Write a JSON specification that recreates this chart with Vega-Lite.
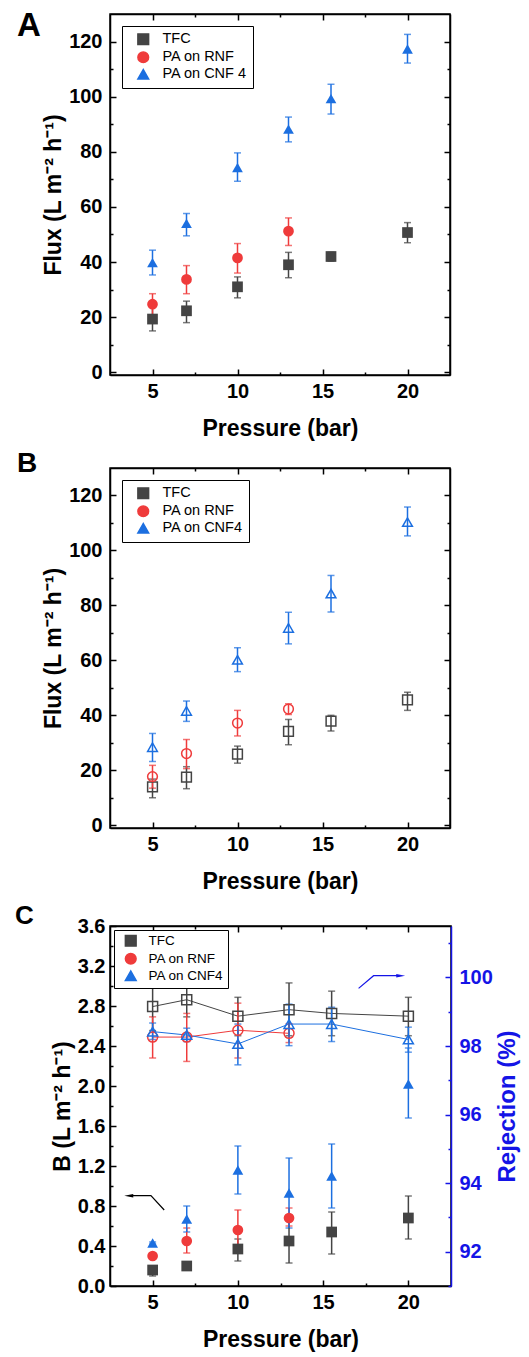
{
  "$schema": "https://vega.github.io/schema/vega-lite/v6.json",
  "background": "white",
  "padding": {"left": 14, "top": 9, "right": 0, "bottom": 0},
  "spacing": 8,
  "resolve": {"scale": {"color": "independent", "shape": "independent"}},
  "config": {
    "font": "Liberation Sans",
    "view": {"stroke": "black", "strokeWidth": 1.5},
    "axis": {"grid": false, "domainColor": "black", "domainWidth": 1.5, "tickColor": "black", "tickWidth": 1.5, "labelFontSize": 20, "labelFontWeight": "bold", "labelColor": "black", "titleFontSize": 23, "titleFontWeight": "bold", "titleColor": "black", "labelFlush": false, "labelOverlap": false},
    "legend": {"orient": "top-left", "strokeColor": "black", "fillColor": "white", "padding": 6, "labelFontSize": 14.5, "labelColor": "black", "symbolSize": 115, "symbolOpacity": 1, "rowPadding": 0, "labelOffset": 12, "symbolOffset": 8, "offset": 12, "symbolStrokeWidth": 1.5},
    "title": {"fontSize": 32, "fontWeight": "bold", "anchor": "start", "frame": "group", "color": "black", "baseline": "alphabetic"}
  },
  "datasets": {
    "fa": [
      {"s": "TFC", "p": 5, "v": 19.3, "lo": 15, "hi": 23.6},
      {"s": "TFC", "p": 7, "v": 22.3, "lo": 18, "hi": 25.8},
      {"s": "TFC", "p": 10, "v": 31, "lo": 27, "hi": 34.6},
      {"s": "TFC", "p": 13, "v": 39, "lo": 34.3, "hi": 43.5},
      {"s": "TFC", "p": 15.5, "v": 42, "lo": 40.3, "hi": 43.5},
      {"s": "TFC", "p": 20, "v": 50.7, "lo": 47, "hi": 54.3},
      {"s": "PA on RNF", "p": 5, "v": 24.7, "lo": 20.7, "hi": 28.5},
      {"s": "PA on RNF", "p": 7, "v": 33.7, "lo": 28.5, "hi": 38.7},
      {"s": "PA on RNF", "p": 10, "v": 41.5, "lo": 36, "hi": 46.7},
      {"s": "PA on RNF", "p": 13, "v": 51.2, "lo": 46, "hi": 56},
      {"s": "PA on CNF 4", "p": 5, "v": 39.8, "lo": 35.3, "hi": 44.3},
      {"s": "PA on CNF 4", "p": 7, "v": 54, "lo": 49.5, "hi": 57.6},
      {"s": "PA on CNF 4", "p": 10, "v": 74.3, "lo": 69.3, "hi": 79.6},
      {"s": "PA on CNF 4", "p": 13, "v": 88.2, "lo": 83.6, "hi": 92.6},
      {"s": "PA on CNF 4", "p": 15.5, "v": 99.3, "lo": 93.7, "hi": 104.5},
      {"s": "PA on CNF 4", "p": 20, "v": 117.3, "lo": 112.2, "hi": 122.6}
    ],
    "fb": [
      {"s": "TFC", "p": 5, "v": 14, "lo": 10, "hi": 16.8},
      {"s": "TFC", "p": 7, "v": 17.5, "lo": 13.3, "hi": 21.3},
      {"s": "TFC", "p": 10, "v": 25.9, "lo": 22.6, "hi": 28.8},
      {"s": "TFC", "p": 13, "v": 34.2, "lo": 29.3, "hi": 38.5},
      {"s": "TFC", "p": 15.5, "v": 37.9, "lo": 34.3, "hi": 40},
      {"s": "TFC", "p": 20, "v": 45.6, "lo": 41.8, "hi": 48.4},
      {"s": "PA on RNF", "p": 5, "v": 17.7, "lo": 13.5, "hi": 21.8},
      {"s": "PA on RNF", "p": 7, "v": 26.1, "lo": 20.6, "hi": 31.2},
      {"s": "PA on RNF", "p": 10, "v": 37.2, "lo": 32.5, "hi": 41.8},
      {"s": "PA on RNF", "p": 13, "v": 42.3, "lo": 40.3, "hi": 44.2},
      {"s": "PA on CNF4", "p": 5, "v": 28.4, "lo": 23.2, "hi": 33.4},
      {"s": "PA on CNF4", "p": 7, "v": 41.6, "lo": 37.8, "hi": 45.2},
      {"s": "PA on CNF4", "p": 10, "v": 60.2, "lo": 55.9, "hi": 64.6},
      {"s": "PA on CNF4", "p": 13, "v": 71.8, "lo": 66, "hi": 77.5},
      {"s": "PA on CNF4", "p": 15.5, "v": 84.3, "lo": 77.6, "hi": 90.9},
      {"s": "PA on CNF4", "p": 20, "v": 110.3, "lo": 105.3, "hi": 115.8}
    ],
    "cb": [
      {"s": "TFC", "p": 5, "v": 0.16, "lo": 0.1, "hi": 0.2},
      {"s": "TFC", "p": 7, "v": 0.2, "lo": 0.19, "hi": 0.21},
      {"s": "TFC", "p": 10, "v": 0.37, "lo": 0.25, "hi": 0.47},
      {"s": "TFC", "p": 13, "v": 0.45, "lo": 0.23, "hi": 0.67},
      {"s": "TFC", "p": 15.5, "v": 0.54, "lo": 0.32, "hi": 0.74},
      {"s": "TFC", "p": 20, "v": 0.68, "lo": 0.47, "hi": 0.9},
      {"s": "PA on RNF", "p": 5, "v": 0.3, "lo": 0.29, "hi": 0.31},
      {"s": "PA on RNF", "p": 7, "v": 0.45, "lo": 0.33, "hi": 0.58},
      {"s": "PA on RNF", "p": 10, "v": 0.56, "lo": 0.4, "hi": 0.76},
      {"s": "PA on RNF", "p": 13, "v": 0.68, "lo": 0.6, "hi": 0.78},
      {"s": "PA on CNF4", "p": 5, "v": 0.43, "lo": 0.42, "hi": 0.44},
      {"s": "PA on CNF4", "p": 7, "v": 0.67, "lo": 0.54, "hi": 0.8},
      {"s": "PA on CNF4", "p": 10, "v": 1.16, "lo": 0.92, "hi": 1.4},
      {"s": "PA on CNF4", "p": 13, "v": 0.93, "lo": 0.58, "hi": 1.28},
      {"s": "PA on CNF4", "p": 15.5, "v": 1.1, "lo": 0.78, "hi": 1.42},
      {"s": "PA on CNF4", "p": 20, "v": 2.02, "lo": 1.68, "hi": 2.38}
    ],
    "cr": [
      {"s": "TFC", "p": 5, "v": 99.15, "lo": 98.45, "hi": 99.84},
      {"s": "TFC", "p": 7, "v": 99.35, "lo": 98.85, "hi": 99.84},
      {"s": "TFC", "p": 10, "v": 98.87, "lo": 98.3, "hi": 99.42},
      {"s": "TFC", "p": 13, "v": 99.06, "lo": 98.3, "hi": 99.84},
      {"s": "TFC", "p": 15.5, "v": 98.95, "lo": 98.3, "hi": 99.6},
      {"s": "TFC", "p": 20, "v": 98.87, "lo": 98.3, "hi": 99.42},
      {"s": "PA on RNF", "p": 5, "v": 98.26, "lo": 97.65, "hi": 98.85},
      {"s": "PA on RNF", "p": 7, "v": 98.26, "lo": 97.55, "hi": 98.95},
      {"s": "PA on RNF", "p": 10, "v": 98.46, "lo": 97.65, "hi": 99.25},
      {"s": "PA on RNF", "p": 13, "v": 98.37, "lo": 98.1, "hi": 98.65},
      {"s": "PA on CNF4", "p": 5, "v": 98.42, "lo": 98.19, "hi": 98.67},
      {"s": "PA on CNF4", "p": 7, "v": 98.32, "lo": 98.13, "hi": 98.52},
      {"s": "PA on CNF4", "p": 10, "v": 98.06, "lo": 97.45, "hi": 98.64},
      {"s": "PA on CNF4", "p": 13, "v": 98.64, "lo": 98.01, "hi": 99.22},
      {"s": "PA on CNF4", "p": 15.5, "v": 98.64, "lo": 98.13, "hi": 99.13},
      {"s": "PA on CNF4", "p": 20, "v": 98.19, "lo": 97.82, "hi": 98.55}
    ],
    "arrB": [
      {"k": 1, "p": 5.68, "v": 0.76},
      {"k": 2, "p": 4.9, "v": 0.903},
      {"k": 3, "p": 3.65, "v": 0.903}
    ],
    "arrR": [
      {"k": 1, "p": 17.08, "v": 99.68},
      {"k": 2, "p": 17.96, "v": 100.05},
      {"k": 3, "p": 19.5, "v": 100.05}
    ]
  },
  "vconcat": [
    {
      "width": 340, "height": 361,
      "title": {"text": "A", "dx": -93, "offset": -30, "fontSize": 33},
      "data": {"name": "fa"},
      "layer": [
        {
          "mark": {"type": "errorbar", "ticks": true, "size": 7, "thickness": 1.5},
          "encoding": {
            "x": {"field": "p", "type": "quantitative", "scale": {"domain": [2.5, 22.5], "nice": false, "zero": false}, "axis": {"orient": "top", "values": [5, 7.5, 10, 12.5, 15, 17.5, 20], "labels": false, "title": null, "tickSize": {"condition": {"test": "datum.value % 5 === 0", "value": -6}, "value": -3}}},
            "y": {"field": "lo", "type": "quantitative", "scale": {"domain": [-1, 130], "nice": false, "zero": false}, "axis": {"orient": "right", "values": [0, 10, 20, 30, 40, 50, 60, 70, 80, 90, 100, 110, 120], "labels": false, "title": null, "tickSize": {"condition": {"test": "datum.value % 20 === 0", "value": -6}, "value": -3}}},
            "y2": {"field": "hi"},
            "color": {"field": "s", "type": "nominal", "scale": {"domain": ["TFC", "PA on RNF", "PA on CNF 4"], "range": ["#444444", "#ef3b3b", "#1c6fe0"]}}
          }
        },
        {
          "mark": {"type": "point", "filled": true, "opacity": 1, "size": 115},
          "encoding": {
            "x": {"field": "p", "type": "quantitative", "scale": {"domain": [2.5, 22.5], "nice": false, "zero": false}, "axis": {"orient": "bottom", "values": [5, 7.5, 10, 12.5, 15, 17.5, 20], "labelExpr": "datum.value % 5 === 0 ? datum.label : ''", "tickSize": {"condition": {"test": "datum.value % 5 === 0", "value": -6}, "value": -3}, "labelPadding": 12, "title": "Pressure (bar)", "titlePadding": 13}},
            "y": {"field": "v", "type": "quantitative", "scale": {"domain": [-1, 130], "nice": false, "zero": false}, "axis": {"orient": "left", "values": [0, 10, 20, 30, 40, 50, 60, 70, 80, 90, 100, 110, 120], "labelExpr": "datum.value % 20 === 0 ? datum.label : ''", "tickSize": {"condition": {"test": "datum.value % 20 === 0", "value": -6}, "value": -3}, "labelPadding": 14, "title": "Flux (L m⁻² h⁻¹)", "titlePadding": 3}},
            "color": {"field": "s", "type": "nominal", "scale": {"domain": ["TFC", "PA on RNF", "PA on CNF 4"], "range": ["#444444", "#ef3b3b", "#1c6fe0"]}, "legend": {"title": null}},
            "shape": {"field": "s", "type": "nominal", "scale": {"domain": ["TFC", "PA on RNF", "PA on CNF 4"], "range": ["square", "circle", "triangle-up"]}, "legend": {"title": null}}
          }
        }
      ],
      "resolve": {"axis": {"x": "independent", "y": "independent"}}
    },
    {
      "width": 340, "height": 360,
      "title": {"text": "B", "dx": -93, "offset": -10.5, "fontSize": 28},
      "data": {"name": "fb"},
      "layer": [
        {
          "mark": {"type": "errorbar", "ticks": true, "size": 7, "thickness": 1.5},
          "encoding": {
            "x": {"field": "p", "type": "quantitative", "scale": {"domain": [2.5, 22.5], "nice": false, "zero": false}, "axis": {"orient": "top", "values": [5, 7.5, 10, 12.5, 15, 17.5, 20], "labels": false, "title": null, "tickSize": {"condition": {"test": "datum.value % 5 === 0", "value": -6}, "value": -3}}},
            "y": {"field": "lo", "type": "quantitative", "scale": {"domain": [-1, 130], "nice": false, "zero": false}, "axis": {"orient": "right", "values": [0, 10, 20, 30, 40, 50, 60, 70, 80, 90, 100, 110, 120], "labels": false, "title": null, "tickSize": {"condition": {"test": "datum.value % 20 === 0", "value": -6}, "value": -3}}},
            "y2": {"field": "hi"},
            "color": {"field": "s", "type": "nominal", "scale": {"domain": ["TFC", "PA on RNF", "PA on CNF4"], "range": ["#444444", "#ef3b3b", "#1c6fe0"]}}
          }
        },
        {
          "mark": {"type": "point", "filled": false, "opacity": 1, "size": 95, "strokeWidth": 1.5},
          "encoding": {
            "x": {"field": "p", "type": "quantitative", "scale": {"domain": [2.5, 22.5], "nice": false, "zero": false}, "axis": {"orient": "bottom", "values": [5, 7.5, 10, 12.5, 15, 17.5, 20], "labelExpr": "datum.value % 5 === 0 ? datum.label : ''", "tickSize": {"condition": {"test": "datum.value % 5 === 0", "value": -6}, "value": -3}, "labelPadding": 12, "title": "Pressure (bar)", "titlePadding": 13}},
            "y": {"field": "v", "type": "quantitative", "scale": {"domain": [-1, 130], "nice": false, "zero": false}, "axis": {"orient": "left", "values": [0, 10, 20, 30, 40, 50, 60, 70, 80, 90, 100, 110, 120], "labelExpr": "datum.value % 20 === 0 ? datum.label : ''", "tickSize": {"condition": {"test": "datum.value % 20 === 0", "value": -6}, "value": -3}, "labelPadding": 14, "title": "Flux (L m⁻² h⁻¹)", "titlePadding": 3}},
            "color": {"field": "s", "type": "nominal", "scale": {"domain": ["TFC", "PA on RNF", "PA on CNF4"], "range": ["#444444", "#ef3b3b", "#1c6fe0"]}, "legend": {"title": null}},
            "shape": {"field": "s", "type": "nominal", "scale": {"domain": ["TFC", "PA on RNF", "PA on CNF4"], "range": ["square", "circle", "triangle-up"]}, "legend": {"title": null}}
          }
        }
      ],
      "resolve": {"axis": {"x": "independent", "y": "independent"}}
    },
    {
      "width": 341, "height": 360,
      "title": {"text": "C", "dx": -95, "offset": -13, "fontSize": 26},
      "layer": [
        {
          "layer": [
            {
              "data": {"name": "cb"},
              "mark": {"type": "errorbar", "ticks": true, "size": 7, "thickness": 1.5},
              "encoding": {
                "x": {"field": "p", "type": "quantitative", "scale": {"domain": [2.5, 22.5], "nice": false, "zero": false}, "axis": {"orient": "bottom", "values": [5, 7.5, 10, 12.5, 15, 17.5, 20], "labelExpr": "datum.value % 5 === 0 ? datum.label : ''", "tickSize": {"condition": {"test": "datum.value % 5 === 0", "value": -6}, "value": -3}, "labelPadding": 12, "title": "Pressure (bar)", "titlePadding": 13}},
                "y": {"field": "lo", "type": "quantitative", "scale": {"domain": [0, 3.6], "nice": false, "zero": false}, "axis": {"orient": "left", "values": [0, 0.2, 0.4, 0.6, 0.8, 1.0, 1.2, 1.4, 1.6, 1.8, 2.0, 2.2, 2.4, 2.6, 2.8, 3.0, 3.2, 3.4, 3.6], "format": ".1f", "labelExpr": "round(datum.value * 10) % 4 === 0 ? datum.label : ''", "tickSize": {"condition": {"test": "round(datum.value * 10) % 4 === 0", "value": -6}, "value": -3}, "labelPadding": 11, "title": "B (L m⁻² h⁻¹)", "titlePadding": 3}},
                "y2": {"field": "hi"},
                "color": {"field": "s", "type": "nominal", "scale": {"domain": ["TFC", "PA on RNF", "PA on CNF4"], "range": ["#444444", "#ef3b3b", "#1c6fe0"]}}
              }
            },
            {
              "data": {"name": "cb"},
              "mark": {"type": "point", "filled": true, "opacity": 1, "size": 115},
              "encoding": {
                "x": {"field": "p", "type": "quantitative", "scale": {"domain": [2.5, 22.5], "nice": false, "zero": false}, "axis": {"orient": "bottom", "values": [5, 7.5, 10, 12.5, 15, 17.5, 20], "labelExpr": "datum.value % 5 === 0 ? datum.label : ''", "tickSize": {"condition": {"test": "datum.value % 5 === 0", "value": -6}, "value": -3}, "labelPadding": 12, "title": "Pressure (bar)", "titlePadding": 13}},
                "y": {"field": "v", "type": "quantitative", "scale": {"domain": [0, 3.6], "nice": false, "zero": false}, "axis": {"orient": "left", "values": [0, 0.2, 0.4, 0.6, 0.8, 1.0, 1.2, 1.4, 1.6, 1.8, 2.0, 2.2, 2.4, 2.6, 2.8, 3.0, 3.2, 3.4, 3.6], "format": ".1f", "labelExpr": "round(datum.value * 10) % 4 === 0 ? datum.label : ''", "tickSize": {"condition": {"test": "round(datum.value * 10) % 4 === 0", "value": -6}, "value": -3}, "labelPadding": 11, "title": "B (L m⁻² h⁻¹)", "titlePadding": 3}},
                "color": {"field": "s", "type": "nominal", "scale": {"domain": ["TFC", "PA on RNF", "PA on CNF4"], "range": ["#444444", "#ef3b3b", "#1c6fe0"]}, "legend": {"title": null, "labelFontSize": 13.5, "rowPadding": 0, "offset": 4, "padding": 4, "labelOffset": 11, "symbolOffset": 6}},
                "shape": {"field": "s", "type": "nominal", "scale": {"domain": ["TFC", "PA on RNF", "PA on CNF4"], "range": ["square", "circle", "triangle-up"]}, "legend": {"title": null, "labelFontSize": 13.5, "rowPadding": 0, "offset": 4, "padding": 4, "labelOffset": 11, "symbolOffset": 6}}
              }
            },
            {
              "data": {"name": "arrB"},
              "mark": {"type": "line", "color": "black", "strokeWidth": 1.2},
              "encoding": {
                "x": {"field": "p", "type": "quantitative", "scale": {"domain": [2.5, 22.5], "nice": false, "zero": false}, "axis": {"orient": "bottom", "values": [5, 7.5, 10, 12.5, 15, 17.5, 20], "labelExpr": "datum.value % 5 === 0 ? datum.label : ''", "tickSize": {"condition": {"test": "datum.value % 5 === 0", "value": -6}, "value": -3}, "labelPadding": 12, "title": "Pressure (bar)", "titlePadding": 13}},
                "y": {"field": "v", "type": "quantitative", "scale": {"domain": [0, 3.6], "nice": false, "zero": false}, "axis": {"orient": "left", "values": [0, 0.2, 0.4, 0.6, 0.8, 1.0, 1.2, 1.4, 1.6, 1.8, 2.0, 2.2, 2.4, 2.6, 2.8, 3.0, 3.2, 3.4, 3.6], "format": ".1f", "labelExpr": "round(datum.value * 10) % 4 === 0 ? datum.label : ''", "tickSize": {"condition": {"test": "round(datum.value * 10) % 4 === 0", "value": -6}, "value": -3}, "labelPadding": 11, "title": "B (L m⁻² h⁻¹)", "titlePadding": 3}},
                "order": {"field": "k", "type": "quantitative"}
              }
            },
            {
              "data": {"values": [{"p": 3.6, "v": 0.903}]},
              "mark": {"type": "point", "shape": "M -1 0 L 1 -0.4 L 1 0.4 Z", "filled": true, "color": "black", "opacity": 1, "size": 80},
              "encoding": {
                "x": {"field": "p", "type": "quantitative", "scale": {"domain": [2.5, 22.5], "nice": false, "zero": false}, "axis": {"orient": "bottom", "values": [5, 7.5, 10, 12.5, 15, 17.5, 20], "labelExpr": "datum.value % 5 === 0 ? datum.label : ''", "tickSize": {"condition": {"test": "datum.value % 5 === 0", "value": -6}, "value": -3}, "labelPadding": 12, "title": "Pressure (bar)", "titlePadding": 13}},
                "y": {"field": "v", "type": "quantitative", "scale": {"domain": [0, 3.6], "nice": false, "zero": false}, "axis": {"orient": "left", "values": [0, 0.2, 0.4, 0.6, 0.8, 1.0, 1.2, 1.4, 1.6, 1.8, 2.0, 2.2, 2.4, 2.6, 2.8, 3.0, 3.2, 3.4, 3.6], "format": ".1f", "labelExpr": "round(datum.value * 10) % 4 === 0 ? datum.label : ''", "tickSize": {"condition": {"test": "round(datum.value * 10) % 4 === 0", "value": -6}, "value": -3}, "labelPadding": 11, "title": "B (L m⁻² h⁻¹)", "titlePadding": 3}}
              }
            }
          ]
        },
        {
          "layer": [
            {
              "data": {"name": "cr"},
              "mark": {"type": "line", "strokeWidth": 1},
              "encoding": {
                "x": {"field": "p", "type": "quantitative", "scale": {"domain": [2.5, 22.5], "nice": false, "zero": false}, "axis": {"orient": "top", "values": [5, 7.5, 10, 12.5, 15, 17.5, 20], "labels": false, "title": null, "tickSize": {"condition": {"test": "datum.value % 5 === 0", "value": -6}, "value": -3}}},
                "y": {"field": "v", "type": "quantitative", "scale": {"domain": [91, 101.5], "nice": false, "zero": false}, "axis": {"orient": "right", "values": [91, 92, 93, 94, 95, 96, 97, 98, 99, 100, 101], "labelExpr": "datum.value % 2 === 0 ? datum.label : ''", "tickSize": {"condition": {"test": "datum.value % 2 === 0", "value": -6}, "value": -3}, "labelPadding": 14, "title": "Rejection (%)", "titleAngle": 270, "titleBaseline": "top", "titlePadding": 3, "titleFontSize": 24, "domainColor": "#1414e6", "tickColor": "#1414e6", "labelColor": "#1414e6", "titleColor": "#1414e6"}},
                "color": {"field": "s", "type": "nominal", "scale": {"domain": ["TFC", "PA on RNF", "PA on CNF4"], "range": ["#444444", "#ef3b3b", "#1c6fe0"]}, "legend": null},
                "order": {"field": "p", "type": "quantitative"}
              }
            },
            {
              "data": {"name": "cr"},
              "mark": {"type": "errorbar", "ticks": true, "size": 7, "thickness": 1.5},
              "encoding": {
                "x": {"field": "p", "type": "quantitative", "scale": {"domain": [2.5, 22.5], "nice": false, "zero": false}, "axis": {"orient": "top", "values": [5, 7.5, 10, 12.5, 15, 17.5, 20], "labels": false, "title": null, "tickSize": {"condition": {"test": "datum.value % 5 === 0", "value": -6}, "value": -3}}},
                "y": {"field": "lo", "type": "quantitative", "scale": {"domain": [91, 101.5], "nice": false, "zero": false}, "axis": {"orient": "right", "values": [91, 92, 93, 94, 95, 96, 97, 98, 99, 100, 101], "labelExpr": "datum.value % 2 === 0 ? datum.label : ''", "tickSize": {"condition": {"test": "datum.value % 2 === 0", "value": -6}, "value": -3}, "labelPadding": 14, "title": "Rejection (%)", "titleAngle": 270, "titleBaseline": "top", "titlePadding": 3, "titleFontSize": 24, "domainColor": "#1414e6", "tickColor": "#1414e6", "labelColor": "#1414e6", "titleColor": "#1414e6"}},
                "y2": {"field": "hi"},
                "color": {"field": "s", "type": "nominal", "scale": {"domain": ["TFC", "PA on RNF", "PA on CNF4"], "range": ["#444444", "#ef3b3b", "#1c6fe0"]}, "legend": null}
              }
            },
            {
              "data": {"name": "cr"},
              "mark": {"type": "point", "filled": false, "opacity": 1, "size": 100, "strokeWidth": 1.5},
              "encoding": {
                "x": {"field": "p", "type": "quantitative", "scale": {"domain": [2.5, 22.5], "nice": false, "zero": false}, "axis": {"orient": "top", "values": [5, 7.5, 10, 12.5, 15, 17.5, 20], "labels": false, "title": null, "tickSize": {"condition": {"test": "datum.value % 5 === 0", "value": -6}, "value": -3}}},
                "y": {"field": "v", "type": "quantitative", "scale": {"domain": [91, 101.5], "nice": false, "zero": false}, "axis": {"orient": "right", "values": [91, 92, 93, 94, 95, 96, 97, 98, 99, 100, 101], "labelExpr": "datum.value % 2 === 0 ? datum.label : ''", "tickSize": {"condition": {"test": "datum.value % 2 === 0", "value": -6}, "value": -3}, "labelPadding": 14, "title": "Rejection (%)", "titleAngle": 270, "titleBaseline": "top", "titlePadding": 3, "titleFontSize": 24, "domainColor": "#1414e6", "tickColor": "#1414e6", "labelColor": "#1414e6", "titleColor": "#1414e6"}},
                "color": {"field": "s", "type": "nominal", "scale": {"domain": ["TFC", "PA on RNF", "PA on CNF4"], "range": ["#444444", "#ef3b3b", "#1c6fe0"]}, "legend": null},
                "shape": {"field": "s", "type": "nominal", "scale": {"domain": ["TFC", "PA on RNF", "PA on CNF4"], "range": ["square", "circle", "triangle-up"]}, "legend": null}
              }
            },
            {
              "data": {"name": "arrR"},
              "mark": {"type": "line", "color": "#1414e6", "strokeWidth": 1.2},
              "encoding": {
                "x": {"field": "p", "type": "quantitative", "scale": {"domain": [2.5, 22.5], "nice": false, "zero": false}, "axis": {"orient": "top", "values": [5, 7.5, 10, 12.5, 15, 17.5, 20], "labels": false, "title": null, "tickSize": {"condition": {"test": "datum.value % 5 === 0", "value": -6}, "value": -3}}},
                "y": {"field": "v", "type": "quantitative", "scale": {"domain": [91, 101.5], "nice": false, "zero": false}, "axis": {"orient": "right", "values": [91, 92, 93, 94, 95, 96, 97, 98, 99, 100, 101], "labelExpr": "datum.value % 2 === 0 ? datum.label : ''", "tickSize": {"condition": {"test": "datum.value % 2 === 0", "value": -6}, "value": -3}, "labelPadding": 14, "title": "Rejection (%)", "titleAngle": 270, "titleBaseline": "top", "titlePadding": 3, "titleFontSize": 24, "domainColor": "#1414e6", "tickColor": "#1414e6", "labelColor": "#1414e6", "titleColor": "#1414e6"}},
                "order": {"field": "k", "type": "quantitative"}
              }
            },
            {
              "data": {"values": [{"p": 19.55, "v": 100.05}]},
              "mark": {"type": "point", "shape": "M 1 0 L -1 -0.4 L -1 0.4 Z", "filled": true, "color": "#1414e6", "opacity": 1, "size": 80},
              "encoding": {
                "x": {"field": "p", "type": "quantitative", "scale": {"domain": [2.5, 22.5], "nice": false, "zero": false}, "axis": {"orient": "top", "values": [5, 7.5, 10, 12.5, 15, 17.5, 20], "labels": false, "title": null, "tickSize": {"condition": {"test": "datum.value % 5 === 0", "value": -6}, "value": -3}}},
                "y": {"field": "v", "type": "quantitative", "scale": {"domain": [91, 101.5], "nice": false, "zero": false}, "axis": {"orient": "right", "values": [91, 92, 93, 94, 95, 96, 97, 98, 99, 100, 101], "labelExpr": "datum.value % 2 === 0 ? datum.label : ''", "tickSize": {"condition": {"test": "datum.value % 2 === 0", "value": -6}, "value": -3}, "labelPadding": 14, "title": "Rejection (%)", "titleAngle": 270, "titleBaseline": "top", "titlePadding": 3, "titleFontSize": 24, "domainColor": "#1414e6", "tickColor": "#1414e6", "labelColor": "#1414e6", "titleColor": "#1414e6"}}
              }
            }
          ]
        }
      ],
      "resolve": {"scale": {"y": "independent", "color": "independent", "shape": "independent"}, "axis": {"x": "independent"}}
    }
  ]
}
